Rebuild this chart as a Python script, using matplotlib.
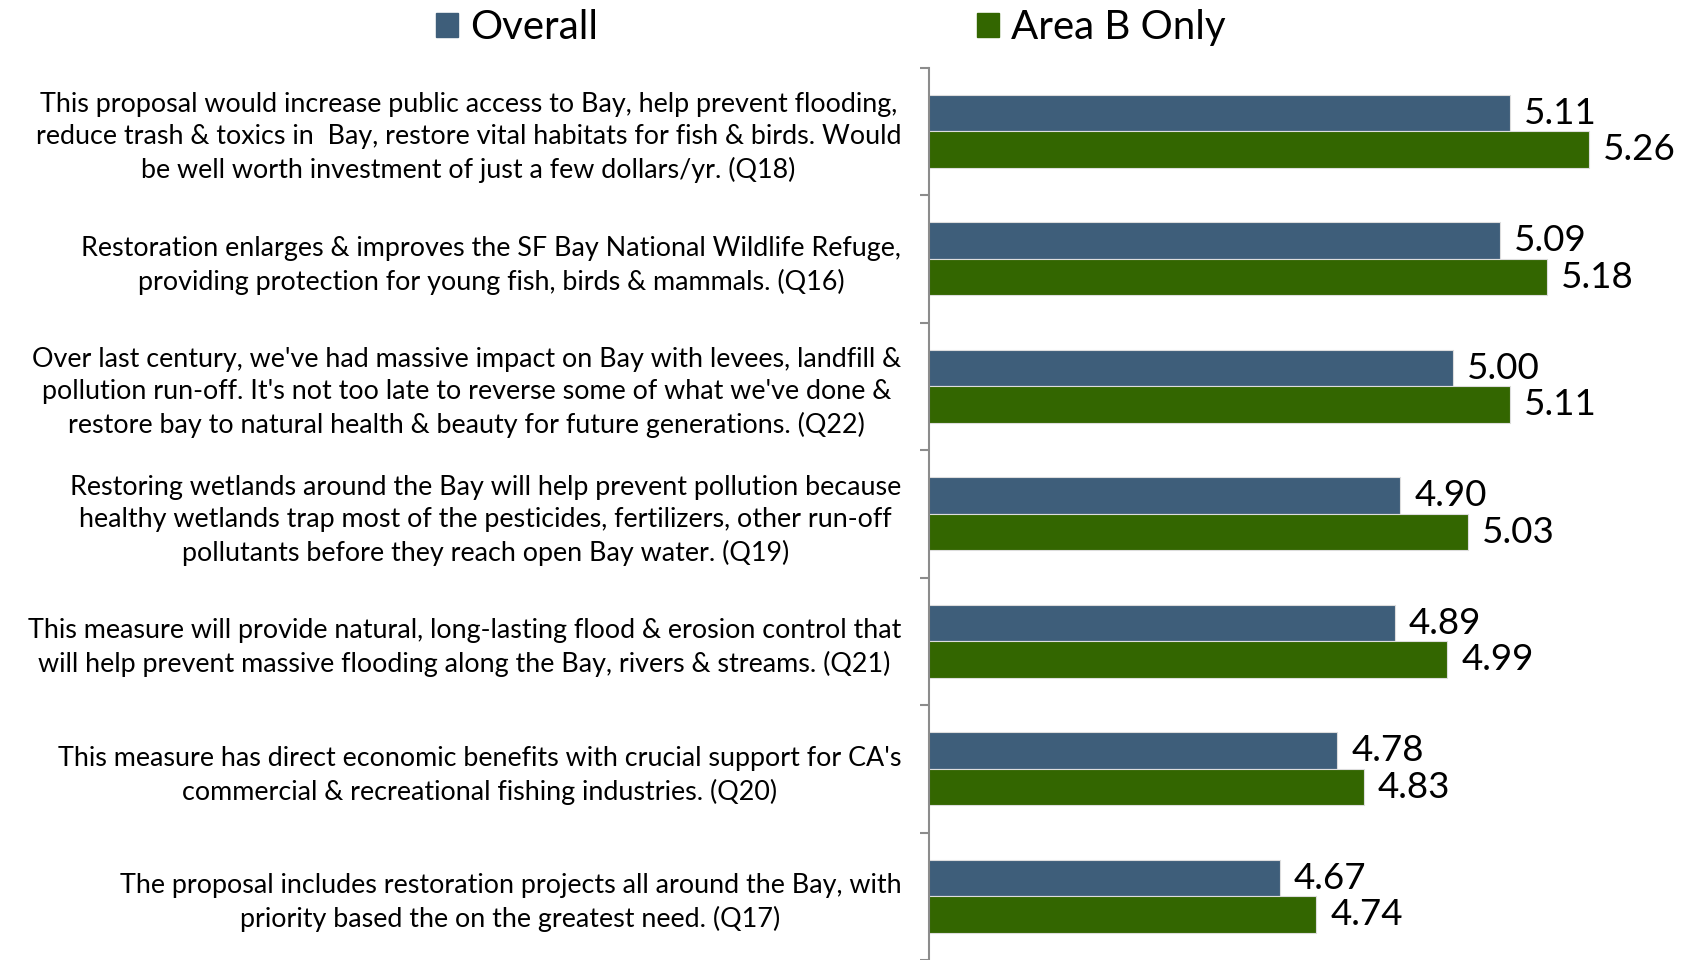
import numpy as np
import matplotlib
matplotlib.use("Agg")
import matplotlib.pyplot as plt
from matplotlib.patches import Patch

plt.rcParams['font.family'] = ['Lato', 'DejaVu Sans']

# data, top to bottom as in the chart
labels = [
    "This proposal would increase public access to Bay, help prevent flooding,\nreduce trash & toxics in  Bay, restore vital habitats for fish & birds. Would\nbe well worth investment of just a few dollars/yr. (Q18)",
    "Restoration enlarges & improves the SF Bay National Wildlife Refuge,\nproviding protection for young fish, birds & mammals. (Q16)",
    "Over last century, we've had massive impact on Bay with levees, landfill &\npollution run-off. It's not too late to reverse some of what we've done &\nrestore bay to natural health & beauty for future generations. (Q22)",
    "Restoring wetlands around the Bay will help prevent pollution because\nhealthy wetlands trap most of the pesticides, fertilizers, other run-off\npollutants before they reach open Bay water. (Q19)",
    "This measure will provide natural, long-lasting flood & erosion control that\nwill help prevent massive flooding along the Bay, rivers & streams. (Q21)",
    "This measure has direct economic benefits with crucial support for CA's\ncommercial & recreational fishing industries. (Q20)",
    "The proposal includes restoration projects all around the Bay, with\npriority based the on the greatest need. (Q17)",
]
overall = [5.11, 5.09, 5.00, 4.90, 4.89, 4.78, 4.67]
area_b = [5.26, 5.18, 5.11, 5.03, 4.99, 4.83, 4.74]

col_overall = "#3E5E7A"
col_area_b = "#336600"

fig = plt.figure(figsize=(16.82, 9.6), dpi=100)
ax = fig.add_axes([929 / 1682, 0, 1 - 929 / 1682, 1 - 67.6 / 960])

y = np.arange(len(labels))
h = 0.286
b1 = ax.barh(y - h / 2, overall, height=h, left=0, color=col_overall, edgecolor="#dddddd", linewidth=0.8)
b2 = ax.barh(y + h / 2, area_b, height=h, left=0, color=col_area_b, edgecolor="#dddddd", linewidth=0.8)

for bars, vals in ((b1, overall), (b2, area_b)):
    for bar, v in zip(bars, vals):
        ax.annotate(f"{v:.2f}", (v, bar.get_y() + bar.get_height() / 2),
                    xytext=(14, 0), textcoords="offset pixels",
                    ha="left", va="center", fontsize=26.5, color="black")

ax.set_xlim(4.0, 4.0 + (1682 - 929) / 523.5)
ax.set_ylim(len(labels) - 0.5, -0.5)

for s in ("top", "right", "bottom"):
    ax.spines[s].set_visible(False)
ax.spines["left"].set_color("#8c8c8c")
ax.spines["left"].set_linewidth(1.5)
ax.set_xticks([])

ax.set_yticks(y)
ax.set_yticklabels(labels, fontsize=19.4, linespacing=1.37)
ax.tick_params(axis="y", which="major", length=0, pad=20)
ax.set_yticks(np.arange(len(labels) + 1) - 0.5, minor=True)
ax.tick_params(axis="y", which="minor", length=6.5, width=1.5, color="#8c8c8c")
for t in ax.get_yticklabels():
    t.set_multialignment("center")

handles = [Patch(color=col_overall, label="Overall"), Patch(color=col_area_b, label="Area B Only")]
fig.legend(handles=handles, loc="upper center", bbox_to_anchor=(831 / 1682, 1.028), ncol=2,
           frameon=False, fontsize=29, handlelength=0.55, handleheight=0.55,
           handletextpad=0.3, columnspacing=9.4)

fig.savefig("out.png", dpi=100)
